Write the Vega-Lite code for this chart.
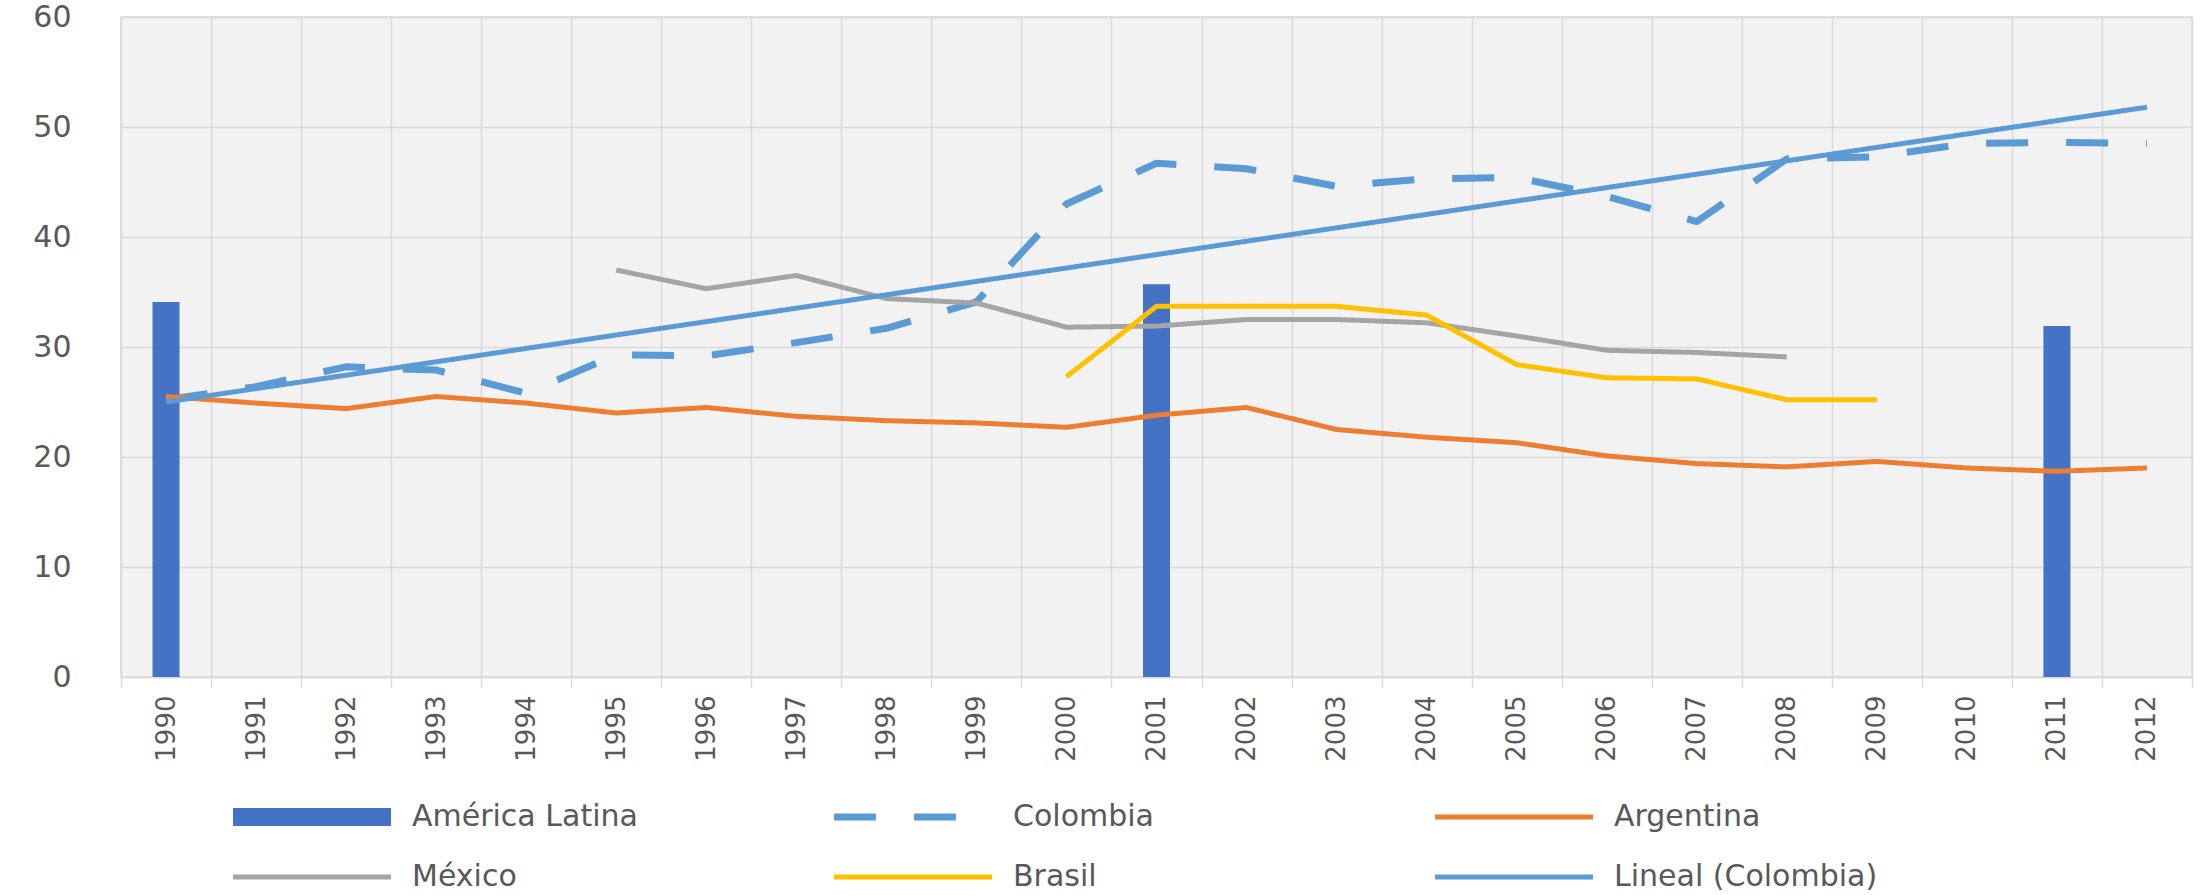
{
  "$schema": "https://vega.github.io/schema/vega-lite/v6.json",
  "width": 2071,
  "height": 660,
  "autosize": {"type": "none"},
  "padding": {"left": 121, "top": 17, "right": 14, "bottom": 218},
  "background": "white",
  "config": {
    "font": "DejaVu Sans",
    "view": {"fill": "#f2f2f2", "stroke": "#d9d9d9", "strokeWidth": 1.5},
    "axis": {"labelColor": "#595959", "gridColor": "#d9d9d9", "gridWidth": 1.5, "domainColor": "#d9d9d9", "domainWidth": 1.5, "tickColor": "#d9d9d9", "tickWidth": 1.5}
  },
  "data": {
    "values": [
      {"year": 1990, "series": "América Latina", "value": 34.1},
      {"year": 2001, "series": "América Latina", "value": 35.7},
      {"year": 2011, "series": "América Latina", "value": 31.9},
      {"year": 1990, "series": "Colombia", "value": 25.2},
      {"year": 1991, "series": "Colombia", "value": 26.4},
      {"year": 1992, "series": "Colombia", "value": 28.2},
      {"year": 1993, "series": "Colombia", "value": 27.9},
      {"year": 1994, "series": "Colombia", "value": 25.8},
      {"year": 1995, "series": "Colombia", "value": 29.3},
      {"year": 1996, "series": "Colombia", "value": 29.2},
      {"year": 1997, "series": "Colombia", "value": 30.4},
      {"year": 1998, "series": "Colombia", "value": 31.7},
      {"year": 1999, "series": "Colombia", "value": 34.1},
      {"year": 2000, "series": "Colombia", "value": 43.0},
      {"year": 2001, "series": "Colombia", "value": 46.7},
      {"year": 2002, "series": "Colombia", "value": 46.2},
      {"year": 2003, "series": "Colombia", "value": 44.6},
      {"year": 2004, "series": "Colombia", "value": 45.3},
      {"year": 2005, "series": "Colombia", "value": 45.4},
      {"year": 2006, "series": "Colombia", "value": 43.7},
      {"year": 2007, "series": "Colombia", "value": 41.4},
      {"year": 2008, "series": "Colombia", "value": 47.1},
      {"year": 2009, "series": "Colombia", "value": 47.3},
      {"year": 2010, "series": "Colombia", "value": 48.5},
      {"year": 2011, "series": "Colombia", "value": 48.6},
      {"year": 2012, "series": "Colombia", "value": 48.5},
      {"year": 1990, "series": "Argentina", "value": 25.5},
      {"year": 1991, "series": "Argentina", "value": 24.9},
      {"year": 1992, "series": "Argentina", "value": 24.4},
      {"year": 1993, "series": "Argentina", "value": 25.5},
      {"year": 1994, "series": "Argentina", "value": 24.9},
      {"year": 1995, "series": "Argentina", "value": 24.0},
      {"year": 1996, "series": "Argentina", "value": 24.5},
      {"year": 1997, "series": "Argentina", "value": 23.7},
      {"year": 1998, "series": "Argentina", "value": 23.3},
      {"year": 1999, "series": "Argentina", "value": 23.1},
      {"year": 2000, "series": "Argentina", "value": 22.7},
      {"year": 2001, "series": "Argentina", "value": 23.8},
      {"year": 2002, "series": "Argentina", "value": 24.5},
      {"year": 2003, "series": "Argentina", "value": 22.5},
      {"year": 2004, "series": "Argentina", "value": 21.8},
      {"year": 2005, "series": "Argentina", "value": 21.3},
      {"year": 2006, "series": "Argentina", "value": 20.1},
      {"year": 2007, "series": "Argentina", "value": 19.4},
      {"year": 2008, "series": "Argentina", "value": 19.1},
      {"year": 2009, "series": "Argentina", "value": 19.6},
      {"year": 2010, "series": "Argentina", "value": 19.0},
      {"year": 2011, "series": "Argentina", "value": 18.7},
      {"year": 2012, "series": "Argentina", "value": 19.0},
      {"year": 1995, "series": "México", "value": 37.0},
      {"year": 1996, "series": "México", "value": 35.3},
      {"year": 1997, "series": "México", "value": 36.5},
      {"year": 1998, "series": "México", "value": 34.4},
      {"year": 1999, "series": "México", "value": 34.0},
      {"year": 2000, "series": "México", "value": 31.8},
      {"year": 2001, "series": "México", "value": 31.9},
      {"year": 2002, "series": "México", "value": 32.5},
      {"year": 2003, "series": "México", "value": 32.5},
      {"year": 2004, "series": "México", "value": 32.2},
      {"year": 2005, "series": "México", "value": 31.0},
      {"year": 2006, "series": "México", "value": 29.7},
      {"year": 2007, "series": "México", "value": 29.5},
      {"year": 2008, "series": "México", "value": 29.1},
      {"year": 2000, "series": "Brasil", "value": 27.3},
      {"year": 2001, "series": "Brasil", "value": 33.7},
      {"year": 2002, "series": "Brasil", "value": 33.7},
      {"year": 2003, "series": "Brasil", "value": 33.7},
      {"year": 2004, "series": "Brasil", "value": 32.9},
      {"year": 2005, "series": "Brasil", "value": 28.4},
      {"year": 2006, "series": "Brasil", "value": 27.2},
      {"year": 2007, "series": "Brasil", "value": 27.1},
      {"year": 2008, "series": "Brasil", "value": 25.2},
      {"year": 2009, "series": "Brasil", "value": 25.2},
      {"year": 1990, "series": "Lineal (Colombia)", "value": 25.0},
      {"year": 2012, "series": "Lineal (Colombia)", "value": 51.8}
    ]
  },
  "encoding": {
    "x": {
      "field": "year",
      "type": "ordinal",
      "scale": {"domain": [1990,1991,1992,1993,1994,1995,1996,1997,1998,1999,2000,2001,2002,2003,2004,2005,2006,2007,2008,2009,2010,2011,2012], "paddingInner": 0, "paddingOuter": 0},
      "axis": {"title": null, "labelAngle": -90, "labelFontSize": 26, "labelPadding": 8, "tickSize": 10, "tickBand": "extent", "grid": true}
    },
    "y": {
      "field": "value",
      "type": "quantitative",
      "scale": {"domain": [0, 60], "nice": false},
      "axis": {"title": null, "values": [0,10,20,30,40,50,60], "labelFontSize": 30, "labelPadding": 50, "ticks": false, "domain": false, "grid": true}
    },
    "color": {
      "field": "series",
      "type": "nominal",
      "scale": {
        "domain": ["América Latina", "Colombia", "Argentina", "México", "Brasil", "Lineal (Colombia)"],
        "range": ["#4472C4", "#5B9BD5", "#ED7D31", "#A5A5A5", "#FFC000", "#5B9BD5"]
      },
      "legend": {
        "title": null,
        "orient": "none",
        "legendX": 103,
        "legendY": 780,
        "direction": "horizontal",
        "columns": 3,
        "gridAlign": "all",
        "symbolType": "stroke",
        "symbolSize": 24964,
        "clipHeight": 40,
        "rowPadding": 20,
        "columnPadding": 149,
        "labelFontSize": 30,
        "labelColor": "#595959",
        "labelOffset": 12,
        "labelLimit": 0
      }
    }
  },
  "layer": [
    {
      "transform": [{"filter": "datum.series === 'América Latina'"}],
      "mark": {"type": "bar", "size": 27}
    },
    {
      "transform": [{"filter": "datum.series !== 'América Latina'"}],
      "mark": {"type": "line", "strokeCap": "butt", "strokeJoin": "round"},
      "encoding": {
        "strokeDash": {
          "field": "series",
          "type": "nominal",
          "scale": {
            "type": "ordinal",
            "domain": ["América Latina", "Colombia", "Argentina", "México", "Brasil", "Lineal (Colombia)"],
            "range": [[1, 0], [42, 38], [1, 0], [1, 0], [1, 0], [1, 0]]
          }
        },
        "strokeWidth": {
          "field": "series",
          "type": "nominal",
          "scale": {
            "type": "ordinal",
            "domain": ["América Latina", "Colombia", "Argentina", "México", "Brasil", "Lineal (Colombia)"],
            "range": [18, 7, 5, 5, 5, 5]
          }
        }
      }
    }
  ]
}
